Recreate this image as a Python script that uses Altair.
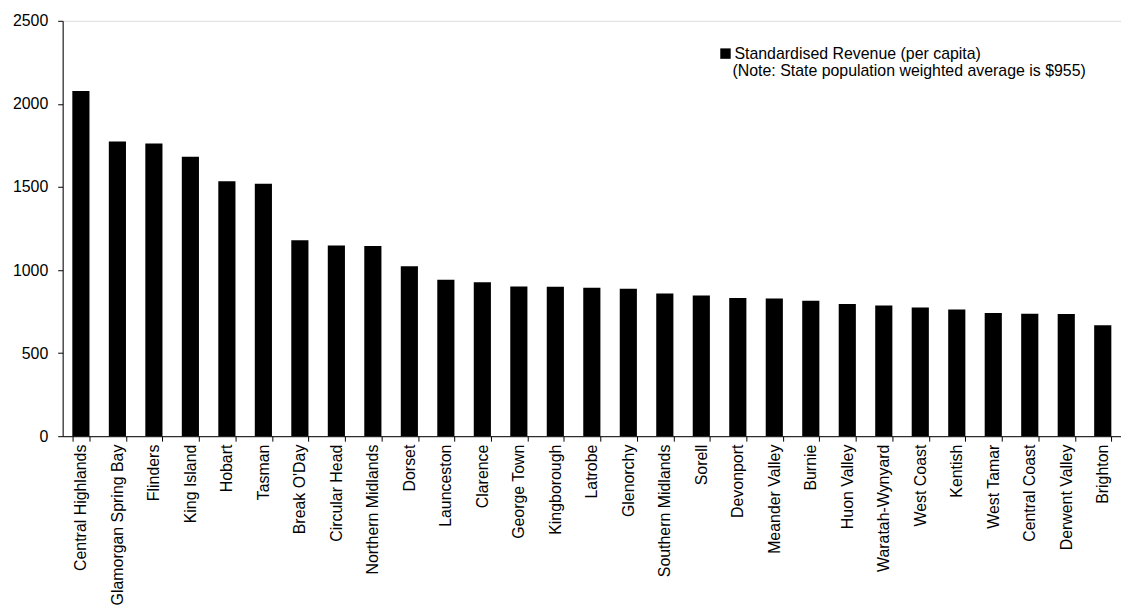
import altair as alt
import pandas as pd

councils = [
    "Central Highlands", "Glamorgan Spring Bay", "Flinders", "King Island", "Hobart",
    "Tasman", "Break O'Day", "Circular Head", "Northern Midlands", "Dorset",
    "Launceston", "Clarence", "George Town", "Kingborough", "Latrobe",
    "Glenorchy", "Southern Midlands", "Sorell", "Devonport", "Meander Valley",
    "Burnie", "Huon Valley", "Waratah-Wynyard", "West Coast", "Kentish",
    "West Tamar", "Central Coast", "Derwent Valley", "Brighton",
]
revenue = [
    2077, 1774, 1762, 1682, 1535,
    1519, 1180, 1148, 1144, 1023,
    941, 927, 901, 899, 893,
    887, 859, 847, 831, 829,
    815, 795, 787, 775, 763,
    741, 737, 735, 668,
]
series_name = "Standardised Revenue (per capita)"
note_text = ["(Note: State population weighted average is $955)"]

df = pd.DataFrame({"council": councils, "revenue": revenue, "series": series_name})
note_df = pd.DataFrame({"note": note_text})

FONT = "Liberation Sans"

bars = alt.Chart(df).mark_bar(color="black").encode(
    x=alt.X(
        "council:N",
        sort=councils,
        title=None,
        scale=alt.Scale(paddingInner=0.53, paddingOuter=0.265),
        axis=alt.Axis(
            labelAngle=270,
            labelAlign="right",
            labelBaseline="middle",
            labelPadding=3,
            labelLimit=0,
            tickSize=5,
            tickBand="extent",
            tickColor="black",
            domainColor="black",
            labelFont=FONT,
            labelFontSize=16,
            labelColor="black",
            grid=False,
        ),
    ),
    y=alt.Y(
        "revenue:Q",
        title=None,
        scale=alt.Scale(domain=[0, 2500], nice=False),
        axis=alt.Axis(
            values=[0, 500, 1000, 1500, 2000, 2500],
            format="d",
            tickSize=5,
            labelPadding=10,
            tickColor="black",
            domainColor="black",
            labelFont=FONT,
            labelFontSize=16,
            labelColor="black",
            grid=False,
        ),
    ),
    color=alt.Color(
        "series:N",
        scale=alt.Scale(domain=[series_name], range=["black"]),
        legend=alt.Legend(
            title=None,
            orient="none",
            legendX=659,
            legendY=25,
            symbolType="square",
            symbolSize=110,
            symbolStrokeWidth=0,
            labelFont=FONT,
            labelFontSize=16,
            labelColor="black",
            labelOffset=1,
            labelLimit=0,
            padding=0,
        ),
    ),
)

note = alt.Chart(note_df).mark_text(
    align="left", baseline="middle", font=FONT, fontSize=16, color="black"
).encode(
    text="note:N",
    x=alt.value(674),
    y=alt.value(51),
)

chart = alt.layer(bars, note).properties(
    width=1065,
    height=418,
    padding={"left": 4, "top": 3, "right": 0, "bottom": 0},
).configure_view(stroke=None).configure(background="white")

chart.save("out.html", embed_options={"renderer": "svg", "actions": False})
